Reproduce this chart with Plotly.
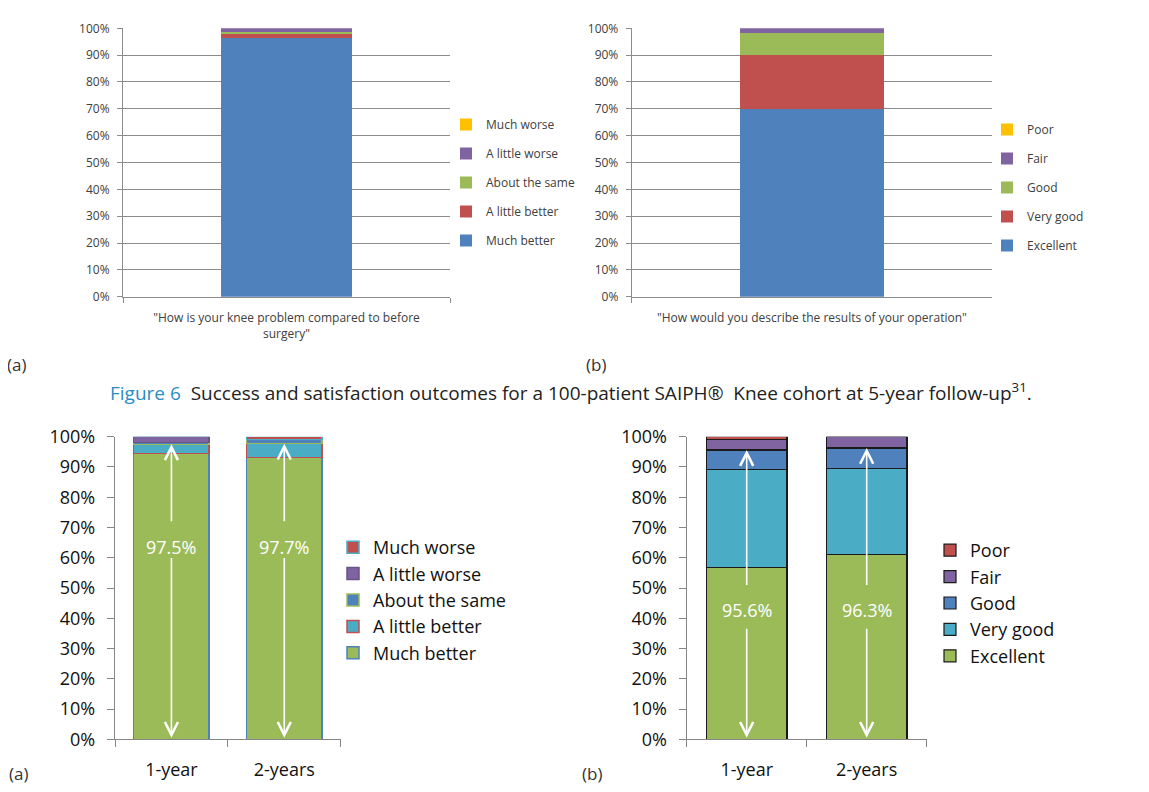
import plotly.graph_objects as go

W, H = 1149, 792
PAGE_OFFSET = 8  # default page margin of the html body

# ---------------- data ----------------
# Top-left panel (5-year cohort, knee problem vs before surgery)
a5_categories = ['"How is your knee problem compared to before surgery"']
a5_tick_labels = ['"How is your knee problem compared to before<br>surgery"']
a5_much_better = [96.3]
a5_little_better = [1.5]
a5_same = [0.9]
a5_little_worse = [1.3]
a5_much_worse = [0.0]

# Top-right panel (5-year cohort, results of operation)
b5_categories = ['"How would you describe the results of your operation"']
b5_excellent = [70.0]
b5_very_good = [20.0]
b5_good = [8.4]
b5_fair = [1.6]
b5_poor = [0.0]

# Bottom panels (1-year / 2-years)
years = ["1-year", "2-years"]
a_much_better = [94.5, 93.2]
a_little_better = [3.0, 4.5]
a_same = [0.6, 1.3]
a_little_worse = [1.9, 0.0]
a_much_worse = [0.0, 1.0]
a_success = [97.5, 97.7]

b_excellent = [56.8, 61.2]
b_very_good = [32.4, 28.3]
b_good = [6.4, 6.8]
b_fair = [3.6, 3.7]
b_poor = [0.8, 0.0]
b_satisfied = [95.6, 96.3]

y_ticks = [0, 10, 20, 30, 40, 50, 60, 70, 80, 90, 100]
y_tick_labels = ["0%", "10%", "20%", "30%", "40%", "50%", "60%", "70%", "80%", "90%", "100%"]

# ---------------- style ----------------
BLUE, RED, GREEN, PURPLE, ORANGE, CYAN = "#4f81bd", "#c0504d", "#9bbb59", "#8064a2", "#ffc000", "#4bacc6"
FONT = "Open Sans"
GRAY_TXT = "#404040"
AX = "#8c8c8c"


def px_x(p):
    return (p - PAGE_OFFSET) / W


def px_y(p):
    return 1 - (p - PAGE_OFFSET) / H


fig = go.Figure()

# top-left
for i, (name, vals, col) in enumerate([("Much better", a5_much_better, BLUE),
                                       ("A little better", a5_little_better, RED),
                                       ("About the same", a5_same, GREEN),
                                       ("A little worse", a5_little_worse, PURPLE),
                                       ("Much worse", a5_much_worse, ORANGE)]):
    fig.add_trace(go.Bar(x=a5_categories, y=vals, name=name, marker=dict(color=col, line=dict(width=0)),
                         width=0.4, xaxis="x", yaxis="y", legend="legend", legendgroup="tl" + name,
                         legendrank=100 - i, hoverinfo="name+y"))

# top-right
for i, (name, vals, col) in enumerate([("Excellent", b5_excellent, BLUE), ("Very good", b5_very_good, RED),
                                       ("Good", b5_good, GREEN), ("Fair", b5_fair, PURPLE),
                                       ("Poor", b5_poor, ORANGE)]):
    fig.add_trace(go.Bar(x=b5_categories, y=vals, name=name, marker=dict(color=col, line=dict(width=0)),
                         width=0.4, xaxis="x2", yaxis="y2", legend="legend2", legendgroup="tr" + name,
                         legendrank=100 - i, hoverinfo="name+y"))

# bottom-left
for i, (name, vals, col, lc) in enumerate([("Much better", a_much_better, GREEN, BLUE),
                                           ("A little better", a_little_better, CYAN, RED),
                                           ("About the same", a_same, BLUE, GREEN),
                                           ("A little worse", a_little_worse, PURPLE, "#6a5387"),
                                           ("Much worse", a_much_worse, RED, CYAN)]):
    fig.add_trace(go.Bar(x=years, y=vals, name=name, marker=dict(color=col, line=dict(width=1.5, color=lc)),
                         width=0.67, xaxis="x3", yaxis="y3", legend="legend3", legendgroup="bl" + name,
                         legendrank=100 - i, hoverinfo="name+y"))

# bottom-right
for i, (name, vals, col) in enumerate([("Excellent", b_excellent, GREEN), ("Very good", b_very_good, CYAN),
                                       ("Good", b_good, BLUE), ("Fair", b_fair, PURPLE), ("Poor", b_poor, RED)]):
    fig.add_trace(go.Bar(x=years, y=vals, name=name, marker=dict(color=col, line=dict(width=1.2, color="#1a1a1a")),
                         width=0.67, xaxis="x4", yaxis="y4", legend="legend4", legendgroup="br" + name,
                         legendrank=100 - i, hoverinfo="name+y"))


def top_x(domain, anchor, cats, texts):
    return dict(domain=domain, anchor=anchor, type="category", range=[-0.5, 0.5], showline=True,
                linecolor=AX, linewidth=1, ticks="outside", tickson="boundaries", ticklen=5, tickcolor=AX,
                tickvals=cats, ticktext=texts, tickfont=dict(family=FONT, size=12, color=GRAY_TXT),
                showgrid=False, zeroline=False, ticklabelstandoff=10, automargin=False)


def top_y(domain, anchor):
    return dict(domain=domain, anchor=anchor, range=[0, 100], tickvals=y_ticks, ticktext=y_tick_labels,
                showgrid=True, gridcolor=AX, gridwidth=1, showline=True, linecolor=AX, ticks="outside",
                ticklen=5, tickcolor=AX, tickfont=dict(family=FONT, size=12, color=GRAY_TXT), zeroline=False,
                ticklabelstandoff=5, automargin=False)


def bot_x(domain, anchor):
    return dict(domain=domain, anchor=anchor, type="category", range=[-0.5, 1.5], showline=True,
                linecolor="#868686", linewidth=1.3, ticks="outside", tickson="boundaries", ticklen=7,
                tickcolor="#868686", tickwidth=1.3, tickfont=dict(family=FONT, size=18, color="#111"),
                showgrid=False, zeroline=False, ticklabelstandoff=14, automargin=False)


def bot_y(domain, anchor):
    return dict(domain=domain, anchor=anchor, range=[0, 100], tickvals=y_ticks, ticktext=y_tick_labels,
                showgrid=False, showline=True, linecolor="#868686", linewidth=1.3, ticks="outside",
                ticklen=7, tickcolor="#868686", tickwidth=1.3, tickfont=dict(family=FONT, size=18, color="#111"),
                zeroline=False, ticklabelstandoff=8, automargin=False)


top_dom_y = [px_y(296.7), px_y(28.3)]
bot_dom_y = [px_y(739.3), px_y(436.7)]


def legend_cfg(x_text, y_top, size, gap):
    return dict(x=px_x(x_text - 40), y=px_y(y_top), xanchor="left", yanchor="top",
                font=dict(family=FONT, size=size, color=GRAY_TXT if size < 15 else "#111"),
                bgcolor="rgba(0,0,0,0)", traceorder="grouped", tracegroupgap=gap,
                itemwidth=30, itemclick=False, itemdoubleclick=False)


annotations = []
# arrows and labels for bottom panels
for xa, ya, vals, lab_y, up_from, down_from in [("x3", "y3", a_success, 63.5, 71.6, 60.4),
                                                 ("x4", "y4", b_satisfied, 42.8, 50.5, 37.0)]:
    for i, v in enumerate(vals):
        annotations.append(dict(x=i, y=lab_y, xref=xa, yref=ya, text=f"{v}%", showarrow=False,
                                font=dict(family=FONT, size=18, color="white")))
        annotations.append(dict(x=i, y=v, xref=xa, yref=ya, ax=i, ay=up_from, axref=xa, ayref=ya, text="",
                                showarrow=True, arrowhead=5, arrowsize=1.6, arrowwidth=1.6,
                                arrowcolor="white", standoff=0, startstandoff=0))
        annotations.append(dict(x=i, y=0.5, xref=xa, yref=ya, ax=i, ay=down_from, axref=xa, ayref=ya,
                                text="", showarrow=True, arrowhead=5, arrowsize=1.6, arrowwidth=1.6,
                                arrowcolor="white", standoff=0, startstandoff=0))

# panel letters
for txt, xp, yp in [("(a)", 16, 364), ("(b)", 596, 364), ("(a)", 18, 773), ("(b)", 592, 773)]:
    annotations.append(dict(x=px_x(xp), y=px_y(yp), xref="paper", yref="paper", text=txt, showarrow=False,
                            xanchor="center", yanchor="middle", font=dict(family=FONT, size=17, color="#333")))

# caption
annotations.append(dict(x=px_x(571), y=px_y(392), xref="paper", yref="paper", showarrow=False,
                        xanchor="center", yanchor="middle",
                        text='<span style="color:#2a8dc5">Figure 6</span>  Success and satisfaction outcomes for a '
                             '100-patient SAIPH®  Knee cohort at 5-year follow-up<sup>31</sup>.',
                        font=dict(family=FONT, size=19, color="#222")))

fig.update_layout(
    width=W, height=H, autosize=False, margin=dict(l=0, r=0, t=0, b=0, autoexpand=False),
    paper_bgcolor="white", plot_bgcolor="rgba(0,0,0,0)", barmode="stack",
    xaxis=top_x([px_x(123), px_x(450)], "y", a5_categories, a5_tick_labels),
    yaxis=top_y(top_dom_y, "x"),
    xaxis2=top_x([px_x(631.7), px_x(992)], "y2", b5_categories, b5_categories),
    yaxis2=top_y(top_dom_y, "x2"),
    xaxis3=bot_x([px_x(115), px_x(340.7)], "y3"),
    yaxis3=bot_y(bot_dom_y, "x3"),
    xaxis4=bot_x([px_x(686.7), px_x(926.7)], "y4"),
    yaxis4=bot_y(bot_dom_y, "x4"),
    legend=legend_cfg(486, 110, 12, 10),
    legend2=legend_cfg(1027, 115, 12, 10),
    legend3=legend_cfg(373, 529, 18, 0),
    legend4=legend_cfg(970, 532, 18, 0),
    annotations=annotations,
    showlegend=True,
)

fig.write_html("out.html")
